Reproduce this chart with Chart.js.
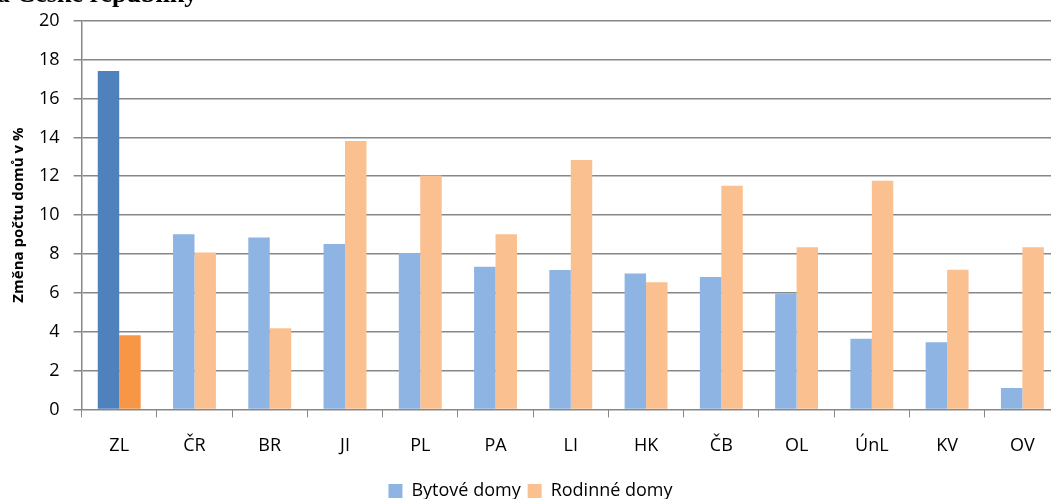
<!DOCTYPE html>
<html>
<head>
<meta charset="utf-8">
<script src="https://cdn.jsdelivr.net/npm/chart.js@4.4.0/dist/chart.umd.min.js"></script>
<style>
  html, body { margin: 0; padding: 0; background: #fff; overflow: hidden; }
  body { width: 1051px; height: 499px; position: relative; }
  #wrap { position: absolute; left: 0; top: -4px; width: 1066px; height: 514px; }
  #title { position: absolute; left: -3px; top: -19px; font: bold 26px "Liberation Serif", serif; line-height: 26px; white-space: nowrap; color: #000; }
</style>
</head>
<body>
<div id="wrap"><canvas id="c"></canvas></div>
<div id="title">a České republiky</div>
<script>
const categories = ["ZL", "ČR", "BR", "JI", "PL", "PA", "LI", "HK", "ČB", "OL", "ÚnL", "KV", "OV"];
const bytoveDomy = [17.41, 9.02, 8.85, 8.51, 8.05, 7.34, 7.17, 7.0, 6.81, 5.97, 3.63, 3.46, 1.10];
const rodinneDomy = [3.82, 8.08, 4.18, 13.81, 12.04, 9.01, 12.83, 6.55, 11.51, 8.34, 11.77, 7.19, 8.34];
const yTicks = [0, 2, 4, 6, 8, 10, 12, 14, 16, 18, 20];
const seriesNames = ["Bytové domy", "Rodinné domy"];

const blueLight = "#8EB4E3", blueDark = "#4F81BD";
const orangeLight = "#FAC090", orangeDark = "#F79646";
const blueColors = categories.map((c, i) => i === 0 ? blueDark : blueLight);
const orangeColors = categories.map((c, i) => i === 0 ? orangeDark : orangeLight);

const font = "'Open Sans', 'Noto Sans', sans-serif";

new Chart(document.getElementById("c"), {
  type: "bar",
  data: {
    labels: categories,
    datasets: [
      { label: seriesNames[0], data: bytoveDomy, backgroundColor: blueColors, borderWidth: 0 },
      { label: seriesNames[1], data: rodinneDomy, backgroundColor: orangeColors, borderWidth: 0 }
    ]
  },
  options: {
    responsive: true,
    maintainAspectRatio: false,
    animation: false,
    layout: { padding: { left: 1, right: 6, top: 11, bottom: 0 } },
    datasets: { bar: { barPercentage: 1.0, categoryPercentage: 0.57 } },
    plugins: {
      tooltip: { enabled: false },
      legend: {
        position: "bottom",
        labels: {
          boxWidth: 14, boxHeight: 14, padding: 7,
          font: { family: font, size: 18 }, color: "#000",
          generateLabels: (chart) => chart.data.datasets.map((ds, i) => ({
            text: ds.label,
            fillStyle: i === 0 ? blueLight : orangeLight,
            strokeStyle: i === 0 ? blueLight : orangeLight,
            lineWidth: 0,
            datasetIndex: i
          }))
        }
      }
    },
    scales: {
      x: {
        grid: { display: true, drawOnChartArea: false, drawTicks: true, tickLength: 8, offset: true, color: "#878787", lineWidth: 1 },
        border: { display: true, color: "#878787", width: 1 },
        ticks: { font: { family: font, size: 18 }, color: "#000", padding: 18 }
      },
      y: {
        min: 0, max: 20,
        afterBuildTicks: (axis) => { axis.ticks = yTicks.map(v => ({ value: v })); },
        grid: { color: "#878787", lineWidth: 1.5, tickLength: 8 },
        border: { display: true, color: "#878787", width: 1.5 },
        ticks: { font: { family: font, size: 18 }, color: "#000", padding: 14 },
        title: { display: true, text: "Změna počtu domů v %", font: { family: font, size: 15, weight: "bold" }, color: "#000", padding: { top: 9, bottom: -3 } }
      }
    }
  }
});
</script>
</body>
</html>
